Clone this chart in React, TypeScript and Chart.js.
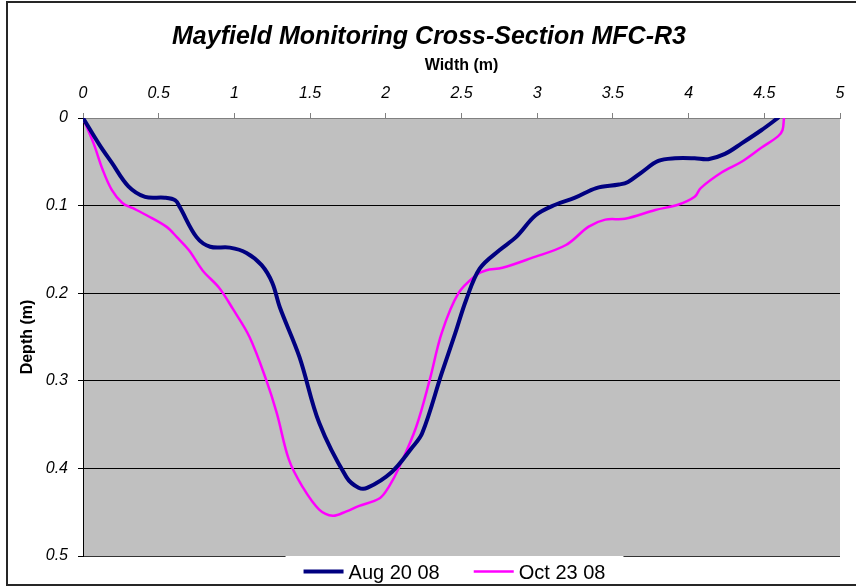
import React, { useEffect, useRef } from 'react';
import { Chart, registerables } from 'chart.js';

Chart.register(...registerables);

const TITLE = 'Mayfield Monitoring Cross-Section MFC-R3';
const X_TITLE = 'Width (m)';
const Y_TITLE = 'Depth (m)';

const xTickLabels = ['0', '0.5', '1', '1.5', '2', '2.5', '3', '3.5', '4', '4.5', '5'];
const yTickLabels = ['0', '0.1', '0.2', '0.3', '0.4', '0.5'];

const seriesNames = ['Aug 20 08', 'Oct 23 08'];
const seriesColors = ['#000080', '#FF00FF'];

const augWidth = [0, 0.11, 0.19, 0.30, 0.41, 0.54, 0.61, 0.64, 0.75, 0.84, 0.97, 1.08, 1.18, 1.25, 1.30, 1.43, 1.56, 1.74, 1.82, 1.88, 2.04, 2.17, 2.24, 2.37, 2.46, 2.53, 2.62, 2.75, 2.86, 2.99, 3.12, 3.25, 3.39, 3.54, 3.60, 3.69, 3.80, 3.91, 4.04, 4.13, 4.24, 4.35, 4.48, 4.59];
const augDepth = [0, 0.031, 0.051, 0.078, 0.090, 0.091, 0.094, 0.102, 0.136, 0.147, 0.148, 0.154, 0.168, 0.188, 0.216, 0.273, 0.348, 0.410, 0.422, 0.422, 0.404, 0.377, 0.360, 0.291, 0.245, 0.208, 0.172, 0.151, 0.136, 0.111, 0.099, 0.091, 0.080, 0.076, 0.073, 0.062, 0.049, 0.046, 0.046, 0.047, 0.041, 0.029, 0.014, 0];

const octWidth = [0, 0.07, 0.13, 0.19, 0.26, 0.33, 0.42, 0.55, 0.62, 0.70, 0.79, 0.90, 0.99, 1.10, 1.21, 1.28, 1.36, 1.45, 1.56, 1.65, 1.74, 1.82, 1.96, 2.02, 2.09, 2.20, 2.29, 2.37, 2.48, 2.60, 2.66, 2.77, 2.96, 3.19, 3.34, 3.45, 3.58, 3.78, 3.93, 4.04, 4.08, 4.22, 4.35, 4.48, 4.59, 4.62, 4.63];
const octDepth = [0, 0.029, 0.059, 0.082, 0.097, 0.103, 0.111, 0.124, 0.136, 0.151, 0.174, 0.194, 0.218, 0.250, 0.299, 0.337, 0.390, 0.421, 0.447, 0.454, 0.449, 0.443, 0.434, 0.421, 0.398, 0.353, 0.299, 0.245, 0.200, 0.179, 0.174, 0.171, 0.160, 0.145, 0.124, 0.116, 0.115, 0.105, 0.099, 0.090, 0.080, 0.062, 0.050, 0.034, 0.021, 0.014, 0];

const FONT = '"Liberation Sans", Arial, Helvetica, sans-serif';

const toPoints = (xs: number[], ys: number[]) => xs.map((x, i) => ({ x, y: ys[i] }));

const plotBgPlugin = {
  id: 'plotBg',
  beforeDraw(chart: any) {
    const { ctx, chartArea } = chart;
    ctx.save();
    ctx.fillStyle = '#C0C0C0';
    ctx.fillRect(chartArea.left, chartArea.top, chartArea.right - chartArea.left, chartArea.bottom - chartArea.top);
    ctx.restore();
  },
};

const legendAndFramePlugin = {
  id: 'legendFrame',
  afterDraw(chart: any) {
    const { ctx, chartArea } = chart;
    ctx.save();
    ctx.font = `20px ${FONT}`;
    const lineLen = 40;
    const gapText = 5;
    const itemGap = 34;
    const padX = 18;
    const items = chart.data.datasets.map((ds: any) => ({
      label: ds.label,
      color: ds.borderColor,
      lw: ds.borderWidth,
      tw: ctx.measureText(ds.label).width,
    }));
    let content = 0;
    items.forEach((it: any, i: number) => {
      content += lineLen + gapText + it.tw + (i > 0 ? itemGap : 0);
    });
    const boxW = content + padX * 2;
    const cx = (chartArea.left + chartArea.right) / 2 - 7;
    const left = cx - boxW / 2;
    const top = chartArea.bottom;
    ctx.fillStyle = '#FFFFFF';
    ctx.fillRect(left, top, boxW, chart.height - top);
    const yMid = top + 16;
    let x = left + padX;
    items.forEach((it: any) => {
      ctx.strokeStyle = it.color;
      ctx.lineWidth = it.lw;
      ctx.lineCap = 'butt';
      ctx.beginPath();
      ctx.moveTo(x, yMid - 0.5);
      ctx.lineTo(x + lineLen, yMid - 0.5);
      ctx.stroke();
      ctx.fillStyle = '#000000';
      ctx.textAlign = 'left';
      ctx.textBaseline = 'middle';
      ctx.fillText(it.label, x + lineLen + gapText, yMid + 1);
      x += lineLen + gapText + it.tw + itemGap;
    });
    // outer frame
    ctx.strokeStyle = '#262626';
    ctx.lineWidth = 2;
    ctx.strokeRect(7, 2, chart.width + 10, 583);
    ctx.restore();
  },
};

const labelFor = (labels: string[], step: number, v: number) => labels[Math.round(v / step)] ?? String(v);

export default function App() {
  const canvasRef = useRef<HTMLCanvasElement | null>(null);

  useEffect(() => {
    if (!canvasRef.current) return;
    const chart = new Chart(canvasRef.current, {
      type: 'scatter',
      data: {
        datasets: [
          {
            label: seriesNames[0],
            data: toPoints(augWidth, augDepth),
            showLine: true,
            borderColor: seriesColors[0],
            backgroundColor: seriesColors[0],
            borderWidth: 4,
            pointRadius: 0,
            tension: 0.35,
            borderCapStyle: 'round',
            borderJoinStyle: 'round',
          },
          {
            label: seriesNames[1],
            data: toPoints(octWidth, octDepth),
            showLine: true,
            borderColor: seriesColors[1],
            backgroundColor: seriesColors[1],
            borderWidth: 2.5,
            pointRadius: 0,
            tension: 0.35,
            borderCapStyle: 'round',
            borderJoinStyle: 'round',
          },
        ],
      },
      options: {
        responsive: false,
        animation: false,
        events: [],
        layout: { padding: { left: 18, right: 16, top: 6, bottom: 30 } },
        plugins: {
          legend: { display: false },
          tooltip: { enabled: false },
          title: {
            display: true,
            text: TITLE,
            color: '#000000',
            font: { family: FONT, size: 25, weight: 'bold', style: 'italic' },
            padding: { top: 16, bottom: 0 },
          },
        },
        scales: {
          x: {
            type: 'linear',
            position: 'top',
            min: 0,
            max: 5,
            ticks: {
              stepSize: 0.5,
              color: '#000000',
              font: { family: FONT, size: 16, style: 'italic' },
              padding: 10,
              maxRotation: 0,
              autoSkip: false,
              callback: (v: any) => labelFor(xTickLabels, 0.5, Number(v)),
            },
            grid: {
              drawOnChartArea: false,
              drawTicks: true,
              tickLength: 5,
              tickColor: '#808080',
            },
            border: { display: true, color: '#808080', width: 1 },
            title: {
              display: true,
              text: X_TITLE,
              color: '#000000',
              font: { family: FONT, size: 16, weight: 'bold' },
              padding: { top: 3.5, bottom: 0 },
            },
            afterFit: (scale: any) => {
              scale.height = 66;
            },
          },
          y: {
            type: 'linear',
            reverse: true,
            min: 0,
            max: 0.5,
            ticks: {
              stepSize: 0.1,
              color: '#000000',
              font: { family: FONT, size: 16, style: 'italic' },
              padding: 10,
              autoSkip: false,
              callback: (v: any) => labelFor(yTickLabels, 0.1, Number(v)),
            },
            grid: {
              drawOnChartArea: true,
              drawTicks: true,
              tickLength: 5,
              color: (c: any) => {
                const v = c.tick ? c.tick.value : 0;
                if (Math.abs(v) < 1e-9) return '#808080';
                if (Math.abs(v - 0.5) < 1e-9) return '#333333';
                return '#000000';
              },
              tickColor: '#000000',
              lineWidth: 1,
            },
            border: { display: true, color: '#000000', width: 1 },
            title: {
              display: true,
              text: Y_TITLE,
              color: '#000000',
              font: { family: FONT, size: 16, weight: 'bold' },
              padding: { top: 0, bottom: 0 },
            },
            afterFit: (scale: any) => {
              scale.width = 65;
            },
          },
        },
      },
      plugins: [plotBgPlugin, legendAndFramePlugin],
    });
    return () => chart.destroy();
  }, []);

  return (
    <div style={{ position: 'absolute', left: 0, top: 0, width: 856, height: 586, background: '#FFFFFF' }}>
      <canvas ref={canvasRef} width={856} height={586} style={{ display: 'block', width: 856, height: 586 }} />
    </div>
  );
}
